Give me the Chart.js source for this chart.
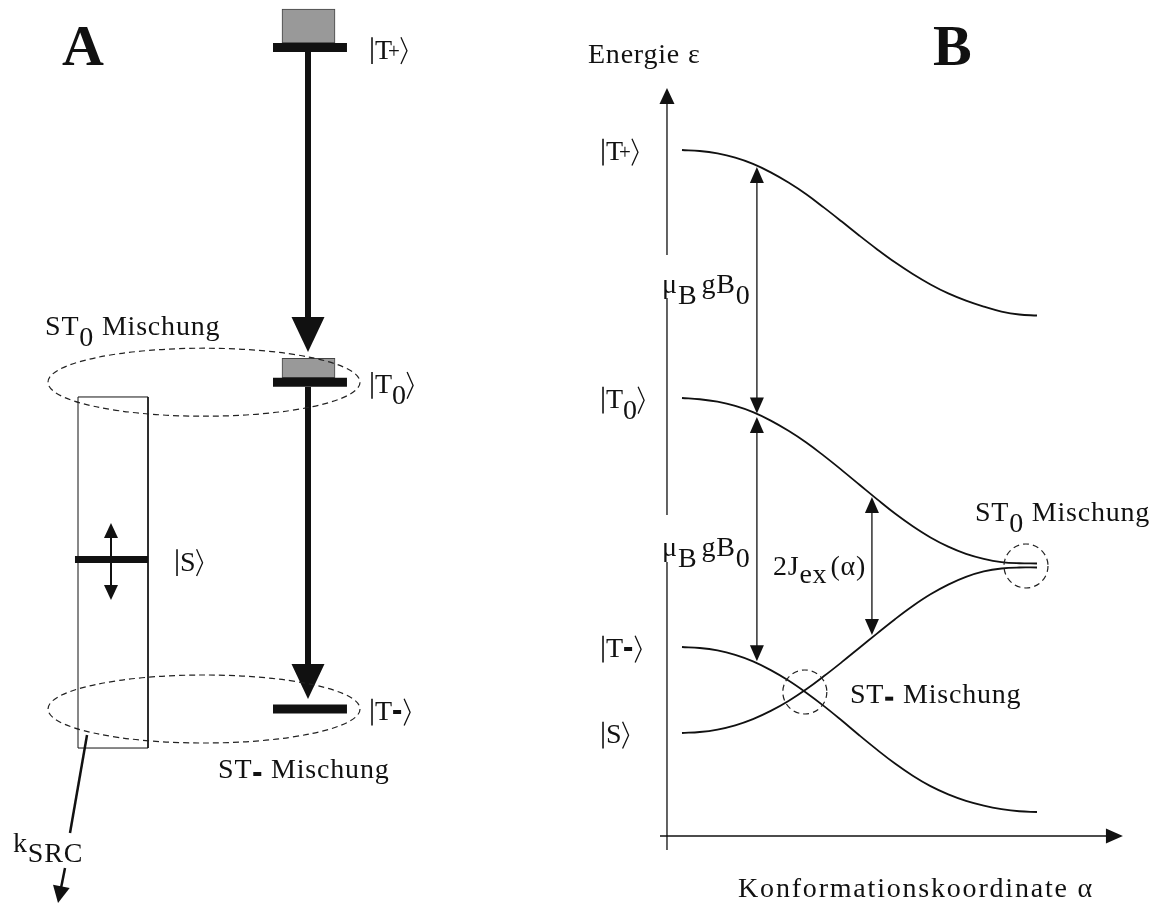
<!DOCTYPE html>
<html>
<head>
<meta charset="utf-8">
<script src="https://cdn.jsdelivr.net/npm/chart.js@4.4.0/dist/chart.umd.min.js"></script>
<style>
  html, body { margin: 0; padding: 0; background: #fff; }
  canvas { display: block; }
</style>
</head>
<body>
<canvas id="myChart" width="1158" height="904"></canvas>
<script>
// ---------- Panel B: state energies vs. conformation coordinate (energy in units of muB*g*B0) ----------
const alphaGrid    = [0, 0.05, 0.1, 0.15, 0.2, 0.25, 0.3, 0.35, 0.4, 0.45, 0.5, 0.55, 0.6, 0.65, 0.7, 0.75, 0.8, 0.85, 0.9, 0.95, 1];
const energyTPlus  = [1.672, 1.668, 1.658, 1.641, 1.616, 1.582, 1.541, 1.494, 1.440, 1.384, 1.327, 1.272, 1.220, 1.173, 1.131, 1.095, 1.066, 1.042, 1.022, 1.010, 1.006];
const energyT0     = [0.674, 0.669, 0.659, 0.642, 0.617, 0.583, 0.542, 0.495, 0.441, 0.384, 0.325, 0.266, 0.209, 0.158, 0.113, 0.076, 0.047, 0.027, 0.014, 0.009, 0.008];
const energyS      = [-0.674, -0.670, -0.660, -0.643, -0.618, -0.585, -0.545, -0.498, -0.445, -0.389, -0.331, -0.273, -0.216, -0.163, -0.116, -0.077, -0.046, -0.024, -0.012, -0.008, -0.008];
const energyTMinus = [-0.328, -0.332, -0.342, -0.360, -0.386, -0.421, -0.463, -0.512, -0.566, -0.624, -0.684, -0.742, -0.797, -0.846, -0.888, -0.921, -0.947, -0.966, -0.980, -0.989, -0.992];

// arrows in panel B: [alpha, energy from, energy to]
const zeemanArrows  = [[0.211, 1.604, 0.612], [0.211, 0.598, -0.385]];
const exchangeArrow = [0.535, 0.276, -0.280];
// mixing regions (dashed circles)
const mixAlpha  = [0.969, 0.346];
const mixEnergy = [-0.002, -0.509];

// ---------- Panel A: level scheme (relative level height, T- = 0, T+ = 1) ----------
const levelNames  = ['T+', 'T0', 'S', 'T-'];
const levelHeight = [1, 0.494, 0.226, 0];
const population  = [1, 0.57, 0, 0];

// layout: pixel anchors used only to set the scale ranges
const W = 1158, H = 904;
const anchorB = { x0: 682, x1: 1037, y0: 565.5, y1: 317 };   // alpha 0..1, energy 0..1
const anchorA = { x0: 0, x1: 560, y0: 709, y1: 47.5 };       // u 0..100, level 0..1

function xRange(p0, p1, v0, v1) {
    const k = (p1 - p0) / (v1 - v0);
    const min = v0 - p0 / k;
    return { min: min, max: min + W / k };
}
function yRange(p0, p1, v0, v1) {
    const k = (p0 - p1) / (v1 - v0);
    const max = v0 + p0 / k;
    return { min: max - H / k, max: max };
}

const rAlpha = xRange(anchorB.x0, anchorB.x1, 0, 1);
const rEnergy = yRange(anchorB.y0, anchorB.y1, 0, 1);
const rAx = xRange(anchorA.x0, anchorA.x1, 0, 100);
const rAy = yRange(anchorA.y0, anchorA.y1, 0, 1);

// panel B axis geometry
const axisAlpha = -0.0423;
const axisEnergy = -1.0885;
const yAxisSpan = [-1.145, 1.922];
const xAxisSpan = [-0.062, 1.242];
const yAxisGaps = [[0.014, 0.203], [1.076, 1.250]];

// panel A geometry (u, level units)
const tripletSpan = [48.75, 61.96];
const singletSpan = [13.39, 26.43];
const boxU = 55.09;
const barHalf = 0.0068;
const boxMax = 0.0514;
const frameU = [13.93, 26.43], frameV = [0.4717, -0.0590];
const decayLine = [[15.54, -0.0393], [12.5, -0.1875]];

const ink = '#111';
const serif = '"Liberation Serif", "Times New Roman", serif';
const fs = 28;

function lineSet(points, xId, yId, width) {
    return {
        type: 'scatter', data: points, showLine: true, xAxisID: xId, yAxisID: yId,
        borderColor: ink, borderWidth: width, pointRadius: 0, tension: 0,
        borderCapStyle: 'butt', spanGaps: false
    };
}

const datasets = [];

// energy curves
[energyTPlus, energyT0, energyS, energyTMinus].forEach(vals => {
    const ds = lineSet(alphaGrid.map((a, i) => ({ x: a, y: vals[i] })), 'alpha', 'energy', 1.8);
    ds.tension = 0.4;
    datasets.push(ds);
});

// axes of panel B (y axis has gaps for the labels)
datasets.push(lineSet([
    { x: axisAlpha, y: yAxisSpan[0] }, { x: axisAlpha, y: yAxisGaps[0][0] }, { x: axisAlpha, y: null },
    { x: axisAlpha, y: yAxisGaps[0][1] }, { x: axisAlpha, y: yAxisGaps[1][0] }, { x: axisAlpha, y: null },
    { x: axisAlpha, y: yAxisGaps[1][1] }, { x: axisAlpha, y: yAxisSpan[1] - 0.05 }
], 'alpha', 'energy', 1.3));
datasets.push(lineSet([{ x: xAxisSpan[0], y: axisEnergy }, { x: xAxisSpan[1] - 0.04, y: axisEnergy }], 'alpha', 'energy', 1.3));

// level bars of panel A
levelNames.forEach((n, i) => {
    const span = n === 'S' ? singletSpan : tripletSpan;
    datasets.push(lineSet([{ x: span[0], y: levelHeight[i] }, { x: span[1], y: levelHeight[i] }], 'ax', 'ay', n === 'S' ? 7 : 9));
});

// singlet frame and decay line
datasets.push(lineSet([
    { x: frameU[0], y: frameV[0] }, { x: frameU[1], y: frameV[0] }, { x: frameU[1], y: frameV[1] },
    { x: frameU[0], y: frameV[1] }, { x: frameU[0], y: frameV[0] }
], 'ax', 'ay', 1));
datasets.push(lineSet(decayLine.map(p => ({ x: p[0], y: p[1] })), 'ax', 'ay', 2.5));

// population boxes
datasets.push({
    type: 'bar', xAxisID: 'ax', yAxisID: 'ay',
    data: levelNames.map((n, i) => population[i] > 0
        ? { x: boxU, y: [levelHeight[i] + barHalf, levelHeight[i] + barHalf + population[i] * boxMax] }
        : null).filter(d => d),
    backgroundColor: '#999999', borderColor: '#444', borderWidth: 1,
    borderSkipped: false, barThickness: 53, grouped: false
});

// ---------- drawing helpers ----------
function head(ctx, x, y, ang, len, half) {
    const ux = Math.cos(ang), uy = Math.sin(ang);
    const bx = x - ux * len, by = y - uy * len;
    ctx.beginPath();
    ctx.moveTo(x, y);
    ctx.lineTo(bx - uy * half, by + ux * half);
    ctx.lineTo(bx + uy * half, by - ux * half);
    ctx.closePath();
    ctx.fill();
}
function arrow(ctx, p1, p2, o) {
    const ang = Math.atan2(p2[1] - p1[1], p2[0] - p1[0]);
    const ux = Math.cos(ang), uy = Math.sin(ang);
    const s = o.both ? [p1[0] + ux * o.len * 0.9, p1[1] + uy * o.len * 0.9] : p1;
    ctx.strokeStyle = ink; ctx.fillStyle = ink; ctx.lineWidth = o.w; ctx.lineCap = 'butt';
    ctx.beginPath();
    ctx.moveTo(s[0], s[1]);
    ctx.lineTo(p2[0] - ux * o.len * 0.9, p2[1] - uy * o.len * 0.9);
    ctx.stroke();
    head(ctx, p2[0], p2[1], ang, o.len, o.half);
    if (o.both) head(ctx, p1[0], p1[1], ang + Math.PI, o.len, o.half);
}
function drawParts(ctx, x, y, parts, size) {
    let cx = x;
    parts.forEach(p => {
        if (p.bar) {
            ctx.fillRect(cx + 1, y - p.lift - 4, 8, 4);
            cx += 11;
            return;
        }
        const f = size * (p.scale || 1);
        ctx.font = (p.bold ? 'bold ' : '') + f + 'px ' + serif;
        const dy = (p.sub ? size * 0.4 : 0) + (p.dy || 0);
        cx += (p.dx || 0);
        ctx.fillText(p.t, cx, y + dy);
        cx += ctx.measureText(p.t).width;
    });
    return cx;
}
function drawKet(ctx, x, y, parts, size) {
    const top = y - size * 0.76, bot = y + size * 0.2;
    ctx.strokeStyle = ink; ctx.lineWidth = 1.6;
    ctx.beginPath(); ctx.moveTo(x, top); ctx.lineTo(x, bot); ctx.stroke();
    const end = drawParts(ctx, x + 3, y, parts, size);
    ctx.lineWidth = 1.3;
    ctx.beginPath();
    ctx.moveTo(end + 1, top); ctx.lineTo(end + 7, (top + bot) / 2); ctx.lineTo(end + 1, bot);
    ctx.stroke();
}

const ketParts = {
    'T+': [{ t: 'T' }, { t: '+', scale: 0.75, dx: -4, dy: -1 }],
    'T0': [{ t: 'T' }, { t: '0', sub: true }],
    'S':  [{ t: 'S' }],
    'T-': [{ t: 'T' }, { bar: true, lift: 6 }]
};
const muLabel = [{ t: '\u03BC' }, { t: 'B', sub: true }, { t: 'g', dx: 4 }, { t: 'B' }, { t: '0', sub: true }];

const diagramPlugin = {
    id: 'diagram',
    afterDatasetsDraw(chart) {
        const ctx = chart.ctx;
        const s = chart.scales;
        const pA = (u, v) => [s.ax.getPixelForValue(u), s.ay.getPixelForValue(v)];
        const pB = (a, e) => [s.alpha.getPixelForValue(a), s.energy.getPixelForValue(e)];
        ctx.save();
        ctx.textBaseline = 'alphabetic';

        // ---- panel A ----
        arrow(ctx, pA(55, 0.9932), pA(55, 0.5397), { w: 6, len: 35, half: 16.5 });
        arrow(ctx, pA(55, 0.4868), pA(55, 0.0151), { w: 6, len: 35, half: 16.5 });
        arrow(ctx, pA(19.82, levelHeight[2] + 0.0552), pA(19.82, levelHeight[2] - 0.0612), { w: 2, len: 15, half: 7, both: true });
        arrow(ctx, pA(11.61, -0.2404), pA(10.36, -0.2933), { w: 2.5, len: 17, half: 8.5 });

        // dashed mixing ellipses around T0 and T-
        ctx.setLineDash([6, 4]);
        ctx.lineWidth = 1.2;
        ctx.strokeStyle = '#222';
        [1, 3].forEach(i => {
            const c = pA(36.43, levelHeight[i]);
            const rx = s.ax.getPixelForValue(36.43 + 27.86) - c[0];
            ctx.beginPath();
            ctx.ellipse(c[0], c[1], rx, 34, 0, 0, Math.PI * 2);
            ctx.stroke();
        });
        // dashed mixing circles in panel B
        mixAlpha.forEach((a, i) => {
            const c = pB(a, mixEnergy[i]);
            ctx.beginPath();
            ctx.arc(c[0], c[1], 22, 0, Math.PI * 2);
            ctx.stroke();
        });
        ctx.setLineDash([]);

        // ---- panel B arrows ----
        const thin = { w: 1.3, len: 16, half: 7, both: true };
        zeemanArrows.forEach(z => arrow(ctx, pB(z[0], z[1]), pB(z[0], z[2]), thin));
        arrow(ctx, pB(exchangeArrow[0], exchangeArrow[1]), pB(exchangeArrow[0], exchangeArrow[2]), thin);
        // axis heads
        ctx.fillStyle = ink;
        const yt = pB(axisAlpha, yAxisSpan[1]);
        head(ctx, yt[0], yt[1], -Math.PI / 2, 16, 7.5);
        const xt = pB(xAxisSpan[1], axisEnergy);
        head(ctx, xt[0], xt[1], 0, 17, 7.5);

        // ---- text ----
        ctx.fillStyle = ink;
        ctx.letterSpacing = '0px';
        const tA = pA(11.07, 0.9735);
        drawParts(ctx, tA[0], tA[1], [{ t: 'A', bold: true }], 58);
        const tB = pB(0.707, 2.014);
        drawParts(ctx, tB[0], tB[1], [{ t: 'B', bold: true }], 58);

        levelNames.forEach((n, i) => {
            const p = pA(n === 'S' ? 31.61 : 66.43, levelHeight[i]);
            drawKet(ctx, p[0], p[1] + 11, ketParts[n], fs);
        });
        ['T+', 'T0', 'T-', 'S'].forEach((n, i) => {
            const e = [energyTPlus, energyT0, energyTMinus, energyS][i][0];
            const p = pB(-0.2225, e);
            drawKet(ctx, p[0], p[1] + 10, ketParts[n], fs);
        });

        ctx.letterSpacing = '0.8px';
        let p = pA(8.04, 0.5654);
        drawParts(ctx, p[0], p[1], [{ t: 'ST' }, { t: '0', sub: true }, { t: ' Mischung' }], fs);
        p = pA(38.93, -0.1043);
        drawParts(ctx, p[0], p[1], [{ t: 'ST' }, { bar: true, lift: 2 }, { t: ' Mischung' }], fs);
        p = pA(2.32, -0.2162);
        drawParts(ctx, p[0], p[1], [{ t: 'k' }, { t: 'SRC', sub: true, dy: -1 }], fs);

        p = pB(-0.265, 2.022);
        drawParts(ctx, p[0], p[1], [{ t: 'Energie \u03B5' }], fs);
        p = pB(-0.056, 1.096);
        drawParts(ctx, p[0], p[1], muLabel, fs);
        p = pB(-0.056, 0.038);
        drawParts(ctx, p[0], p[1], muLabel, fs);
        p = pB(0.256, -0.038);
        drawParts(ctx, p[0], p[1], [{ t: '2J' }, { t: 'ex', sub: true, dy: -3 }, { t: '(\u03B1)', dx: 3 }], fs);
        p = pB(0.825, 0.179);
        drawParts(ctx, p[0], p[1], [{ t: 'ST' }, { t: '0', sub: true }, { t: ' Mischung' }], fs);
        p = pB(0.473, -0.552);
        drawParts(ctx, p[0], p[1], [{ t: 'ST' }, { bar: true, lift: 2 }, { t: ' Mischung' }], fs);
        ctx.letterSpacing = '1.8px';
        p = pB(0.158, -1.334);
        drawParts(ctx, p[0], p[1], [{ t: 'Konformationskoordinate \u03B1' }], fs);

        ctx.restore();
    }
};

function hidden(axis, pos, r) {
    return { type: 'linear', axis: axis, position: pos, display: false, offset: false, min: r.min, max: r.max };
}

const ctx = document.getElementById('myChart').getContext('2d');
const myChart = new Chart(ctx, {
    type: 'scatter',
    data: { datasets: datasets },
    options: {
        responsive: false,
        animation: false,
        devicePixelRatio: 1,
        layout: { padding: 0 },
        plugins: { legend: { display: false }, tooltip: { enabled: false } },
        events: [],
        scales: {
            alpha: hidden('x', 'bottom', rAlpha),
            energy: hidden('y', 'left', rEnergy),
            ax: hidden('x', 'bottom', rAx),
            ay: hidden('y', 'left', rAy)
        }
    },
    plugins: [diagramPlugin]
});
</script>
</body>
</html>
